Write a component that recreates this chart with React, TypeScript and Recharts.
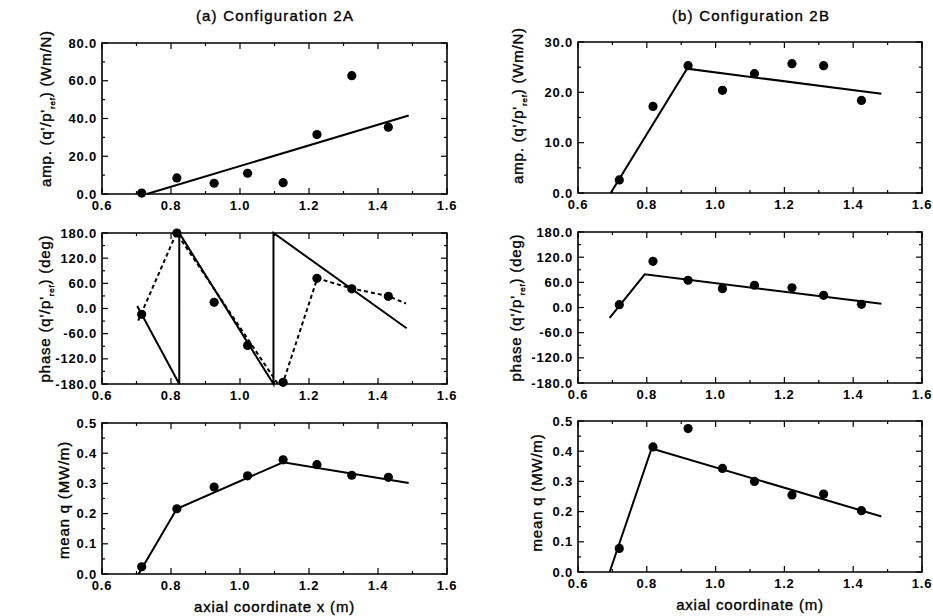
import React from 'react';
import { ComposedChart, Line, Scatter, XAxis, YAxis, ReferenceArea } from 'recharts';

// axis ticks
const xMajorTicks = [0.6, 0.8, 1.0, 1.2, 1.4, 1.6];
const xMinorTicks = [0.7, 0.9, 1.1, 1.3, 1.5];
const ampMajor2A = [0, 20, 40, 60, 80];
const ampMinor2A = [10, 30, 50, 70];
const ampMajor2B = [0, 10, 20, 30];
const ampMinor2B = [5, 15, 25];
const phaseMajor = [-180, -120, -60, 0, 60, 120, 180];
const phaseMinor = [-150, -90, -30, 30, 90, 150];
const qMajor = [0, 0.1, 0.2, 0.3, 0.4, 0.5];
const qMinor = [0.05, 0.15, 0.25, 0.35, 0.45];

// measurement stations, axial coordinate (m)
const stations2A = [0.715, 0.817, 0.925, 1.022, 1.125, 1.223, 1.324, 1.43];
const stations2B = [0.72, 0.818, 0.92, 1.02, 1.113, 1.222, 1.314, 1.424];

// measured values
const amp2A = [0.5, 8.5, 5.7, 11, 6, 31.5, 62.7, 35.4];
const phase2A = [-14, 180, 14.7, -88, -176, 72, 47, 29];
const meanQ2A = [0.024, 0.216, 0.288, 0.325, 0.378, 0.362, 0.327, 0.32];
const amp2B = [2.6, 17.2, 25.3, 20.4, 23.7, 25.7, 25.3, 18.4];
const phase2B = [6.8, 110, 65, 45, 53, 47, 29, 7.5];
const meanQ2B = [0.078, 0.414, 0.475, 0.343, 0.3, 0.255, 0.258, 0.203];

// fitted curves
const ampFit2A = [{ x: 0.73, y: 0 }, { x: 1.489, y: 41.6 }];
const phaseFit2A = [
  { x: 0.702, y: 6 }, { x: 0.824, y: -180 }, { x: 0.824, y: 180 },
  { x: 1.097, y: -180 }, { x: 1.097, y: 180 }, { x: 1.483, y: -47 },
];
const phaseDotted2A = [
  { x: 0.705, y: -29 }, { x: 0.816, y: 180 }, { x: 1.11, y: -180 }, { x: 1.125, y: -176 },
  { x: 1.224, y: 72 }, { x: 1.322, y: 48 }, { x: 1.428, y: 30 }, { x: 1.481, y: 12 },
];
const qFit2A = [{ x: 0.706, y: 0 }, { x: 0.817, y: 0.216 }, { x: 1.125, y: 0.37 }, { x: 1.489, y: 0.301 }];
const ampFit2B = [{ x: 0.695, y: 0 }, { x: 0.917, y: 24.7 }, { x: 1.482, y: 19.7 }];
const phaseFit2B = [{ x: 0.692, y: -25 }, { x: 0.794, y: 79 }, { x: 1.482, y: 9 }];
const qFit2B = [{ x: 0.692, y: 0 }, { x: 0.814, y: 0.409 }, { x: 1.482, y: 0.184 }];

type Pt = { x: number; y: number };
const zip = (xs: number[], ys: number[]): Pt[] => xs.map((x, i) => ({ x, y: ys[i] }));
const near = (list: number[], v: number) => list.some((m) => Math.abs(m - v) < 1e-6);

const FONT = '"Liberation Sans", Arial, Helvetica, sans-serif';
const PLOT_H = 151;
const MARGIN_TOP = 30;
const RIGHT = 13;

const tickFont: React.CSSProperties = {
  fontFamily: FONT, fontSize: 13, fontWeight: 700, letterSpacing: 0.8, fill: '#000',
};
const labelFont: React.CSSProperties = {
  fontFamily: FONT, fontSize: 15, letterSpacing: 0.8, fill: '#000', stroke: '#000', strokeWidth: 0.35,
};

interface PanelProps {
  left: number;
  top: number;
  axisW: number;
  plotW: number;
  points: Pt[];
  fits: { data: Pt[]; dashed?: boolean }[];
  yDomain: [number, number];
  yMajor: number[];
  yMinor: number[];
  yTitle: React.ReactNode;
  titleDx: number;
  titleDy: number;
  xTitle?: string;
}

const Panel: React.FC<PanelProps> = ({
  left, top, axisW, plotW, points, fits, yDomain, yMajor, yMinor, yTitle, titleDx, titleDy, xTitle,
}) => {
  const xAxisH = xTitle ? 42 : 25;

  const XTick = (p: any) => {
    const { x, y, payload } = p;
    const major = near(xMajorTicks, payload.value);
    const len = major ? 6 : 3;
    return (
      <g>
        <line x1={x} y1={y} x2={x} y2={y - len} stroke="#000" strokeWidth={1.2} />
        <line x1={x} y1={y - PLOT_H} x2={x} y2={y - PLOT_H + len} stroke="#000" strokeWidth={1.2} />
        {major && (
          <text x={x} y={y + 16} textAnchor="middle" style={tickFont}>
            {Number(payload.value).toFixed(1)}
          </text>
        )}
      </g>
    );
  };

  const YTick = (p: any) => {
    const { x, y, payload } = p;
    const major = near(yMajor, payload.value);
    const len = major ? 6 : 3;
    return (
      <g>
        <line x1={x} y1={y} x2={x + len} y2={y} stroke="#000" strokeWidth={1.2} />
        <line x1={x + plotW} y1={y} x2={x + plotW - len} y2={y} stroke="#000" strokeWidth={1.2} />
        {major && (
          <text x={x - 5} y={y + 4.5} textAnchor="end" style={tickFont}>
            {Number(payload.value).toFixed(1)}
          </text>
        )}
      </g>
    );
  };

  const yLabel = (p: any) => {
    const vb = p.viewBox;
    const bx = vb.x + vb.width + titleDx;
    const cy = vb.y + vb.height / 2 + titleDy;
    return (
      <text transform={`translate(${bx},${cy}) rotate(-90)`} x={0} y={0} textAnchor="middle" style={labelFont}>
        {yTitle}
      </text>
    );
  };

  const xLabel = (p: any) => {
    const vb = p.viewBox;
    return (
      <text x={vb.x + vb.width / 2} y={vb.y + 38} textAnchor="middle" style={labelFont}>
        {xTitle}
      </text>
    );
  };

  return (
    <div style={{ position: 'absolute', left: left - axisW, top: top - MARGIN_TOP }}>
      <ComposedChart
        width={axisW + plotW + RIGHT}
        height={MARGIN_TOP + PLOT_H + xAxisH}
        margin={{ top: MARGIN_TOP, right: RIGHT, bottom: 0, left: 0 }}
      >
        <XAxis
          dataKey="x"
          type="number"
          domain={[0.6, 1.6]}
          ticks={[...xMajorTicks, ...xMinorTicks].sort((a, b) => a - b)}
          interval={0}
          tick={XTick}
          tickLine={false}
          axisLine={false}
          tickSize={0}
          tickMargin={0}
          height={xAxisH}
          label={xTitle ? xLabel : undefined}
        />
        <YAxis
          dataKey="y"
          type="number"
          domain={yDomain}
          ticks={[...yMajor, ...yMinor].sort((a, b) => a - b)}
          interval={0}
          tick={YTick}
          tickLine={false}
          axisLine={false}
          tickSize={0}
          tickMargin={0}
          width={axisW}
          label={yLabel}
        />
        <ReferenceArea
          x1={0.6}
          x2={1.6}
          y1={yDomain[0]}
          y2={yDomain[1]}
          fill="none"
          fillOpacity={0}
          stroke="#000"
          strokeWidth={1.6}
          ifOverflow="visible"
        />
        {fits.map((f, i) => (
          <Line
            key={i}
            data={f.data}
            dataKey="y"
            type="linear"
            stroke="#000"
            strokeWidth={2}
            strokeDasharray={f.dashed ? '4 3' : undefined}
            dot={false}
            activeDot={false}
            isAnimationActive={false}
          />
        ))}
        <Scatter
          data={points}
          dataKey="y"
          fill="#000"
          isAnimationActive={false}
          shape={(p: any) => <circle cx={p.cx} cy={p.cy} r={4.6} fill="#000" />}
        />
      </ComposedChart>
    </div>
  );
};

const refSub = (
  <tspan fontSize={8} dy={4}>
    ref
  </tspan>
);

export default function App() {
  const ampTitle = (
    <>
      amp. (q'/p'{refSub}
      <tspan dy={-4}>) (Wm/N)</tspan>
    </>
  );
  const phaseTitle = (
    <>
      phase (q'/p'{refSub}
      <tspan dy={-4}>) (deg)</tspan>
    </>
  );
  const qTitle = 'mean q (MW/m)';

  return (
    <div
      style={{
        position: 'absolute',
        left: 0,
        top: 0,
        width: 933,
        height: 616,
        overflow: 'hidden',
        background: '#fff',
        fontFamily: FONT,
      }}
    >
      <svg width={933} height={30} style={{ position: 'absolute', left: 0, top: 0 }}>
        <text x={275} y={21} textAnchor="middle" style={{ ...labelFont, letterSpacing: 1.2 }}>
          (a) Configuration 2A
        </text>
        <text x={751} y={21} textAnchor="middle" style={{ ...labelFont, letterSpacing: 1.2 }}>
          (b) Configuration 2B
        </text>
      </svg>

      {/* column (a) */}
      <Panel
        left={102} top={43} axisW={102} plotW={345}
        points={zip(stations2A, amp2A)}
        fits={[{ data: ampFit2A }]}
        yDomain={[0, 80]} yMajor={ampMajor2A} yMinor={ampMinor2A}
        yTitle={ampTitle} titleDx={-51.5} titleDy={-10}
      />
      <Panel
        left={102} top={233} axisW={102} plotW={345}
        points={zip(stations2A, phase2A)}
        fits={[{ data: phaseFit2A }, { data: phaseDotted2A, dashed: true }]}
        yDomain={[-180, 180]} yMajor={phaseMajor} yMinor={phaseMinor}
        yTitle={phaseTitle} titleDx={-52.5} titleDy={0}
      />
      <Panel
        left={102} top={423} axisW={102} plotW={345}
        points={zip(stations2A, meanQ2A)}
        fits={[{ data: qFit2A }]}
        yDomain={[0, 0.5]} yMajor={qMajor} yMinor={qMinor}
        yTitle={qTitle} titleDx={-33.5} titleDy={1.5}
        xTitle="axial coordinate x (m)"
      />

      {/* column (b) */}
      <Panel
        left={578} top={42} axisW={108} plotW={344}
        points={zip(stations2B, amp2B)}
        fits={[{ data: ampFit2B }]}
        yDomain={[0, 30]} yMajor={ampMajor2B} yMinor={ampMinor2B}
        yTitle={ampTitle} titleDx={-55} titleDy={-12}
      />
      <Panel
        left={578} top={232} axisW={108} plotW={344}
        points={zip(stations2B, phase2B)}
        fits={[{ data: phaseFit2B }]}
        yDomain={[-180, 180]} yMajor={phaseMajor} yMinor={phaseMinor}
        yTitle={phaseTitle} titleDx={-57.5} titleDy={0}
      />
      <Panel
        left={578} top={421} axisW={108} plotW={344}
        points={zip(stations2B, meanQ2B)}
        fits={[{ data: qFit2B }]}
        yDomain={[0, 0.5]} yMajor={qMajor} yMinor={qMinor}
        yTitle={qTitle} titleDx={-36.5} titleDy={-4}
        xTitle="axial coordinate (m)"
      />
    </div>
  );
}
